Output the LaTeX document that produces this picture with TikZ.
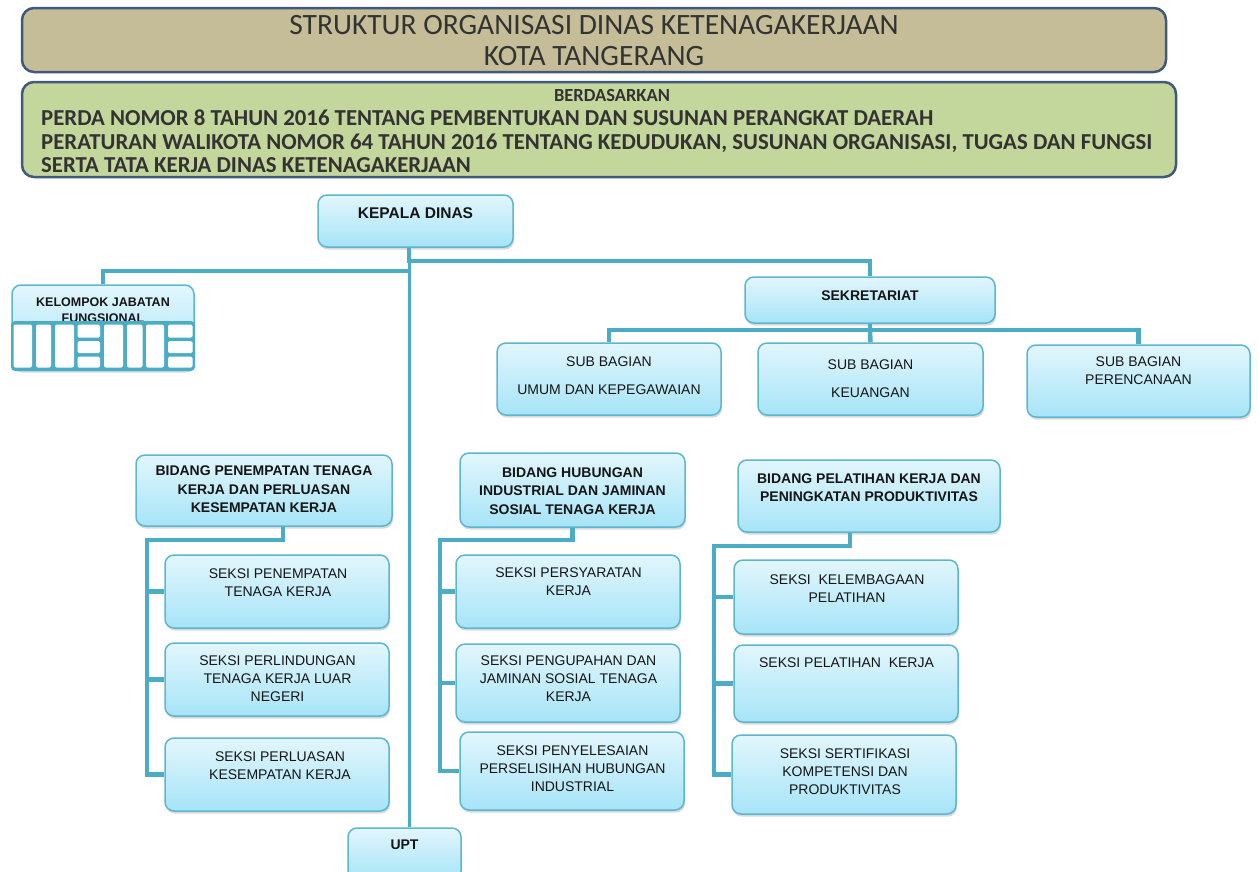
\documentclass[tikz,border=0pt]{standalone}
\usepackage{fontspec}
\setmainfont{Liberation Sans}
\newfontfamily\calib{Carlito}
\usetikzlibrary{shadows,calc}
\definecolor{connc}{HTML}{4BACC6}
\definecolor{bxline}{HTML}{5DB6D0}
\definecolor{bxtop}{HTML}{E2F6FD}
\definecolor{bxbot}{HTML}{A6E4F7}
\definecolor{hdline}{HTML}{41597C}
\definecolor{tanfill}{HTML}{C4BD97}
\definecolor{grnfill}{HTML}{C3D69B}
\definecolor{txt}{HTML}{151515}
\definecolor{ttxt}{HTML}{333333}
\begin{document}
\begin{tikzpicture}[x=1pt,y=-1pt,
  orgbox/.style={draw=bxline, line width=1.5pt, rounded corners=9pt, top color=bxtop, bottom color=bxbot, inner sep=0pt,
    drop shadow={shadow xshift=1pt, shadow yshift=-2.5pt, opacity=0.3, fill=gray}},
  conn/.style={draw=connc, line width=4.5pt},
  topconn/.style={draw=connc, line width=3.8pt},
  hdbox/.style={draw=hdline, line width=2.5pt, rounded corners=12pt, inner sep=0pt},
  bt/.style={font=\fontsize{14}{18.5}\selectfont\bfseries, align=center, text=txt, inner sep=0pt},
  rt/.style={font=\fontsize{14}{18}\selectfont, align=center, text=txt, inner sep=0pt},
]
\useasboundingbox (0,0) rectangle (1258,871);

% ---- headers
\node[hdbox, fill=tanfill, minimum width=1144, minimum height=64] (title) at (594,40) {};
\node[font=\calib\fontsize{29.5}{31}\selectfont, text=ttxt, align=center, inner sep=0pt] (titlet) at (594,41)
  {STRUKTUR ORGANISASI DINAS KETENAGAKERJAAN\\KOTA TANGERANG};
\node[hdbox, fill=grnfill, minimum width=1154, minimum height=95] (dasar) at (599,129.5) {};
\node[font=\calib\fontsize{18.5}{22}\selectfont\bfseries, text=ttxt, inner sep=0pt] (dasart) at (612,95) {BERDASARKAN};
\node[font=\calib\fontsize{22.8}{23.5}\selectfont\bfseries, text=ttxt, align=left, inner sep=0pt, anchor=west] (dasarl) at (41,141.5)
  {PERDA NOMOR 8 TAHUN 2016 TENTANG PEMBENTUKAN DAN SUSUNAN PERANGKAT DAERAH\\
   PERATURAN WALIKOTA NOMOR 64 TAHUN 2016 TENTANG KEDUDUKAN, SUSUNAN ORGANISASI, TUGAS DAN FUNGSI\\
   SERTA TATA KERJA DINAS KETENAGAKERJAAN};

% ---- boxes
\node[orgbox, minimum width=195, minimum height=52] (kd) at (415.5,221) {};
\node[bt, font=\fontsize{15.5}{18}\selectfont\bfseries] (kdt) at (415.5,213) {KEPALA DINAS};

\node[orgbox, minimum width=182, minimum height=85] (kjf) at (103,327.5) {};
\node[bt, font=\fontsize{12.5}{16}\selectfont\bfseries] (kjft) at (103,310.5) {KELOMPOK JABATAN\\FUNGSIONAL};
\fill[connc, rounded corners=4pt] (11,321) rectangle (195,371);
\foreach \a/\b in {13.5/32, 36/51, 55/74, 104/123, 127/142.5, 146/164}
  \fill[white, rounded corners=2pt] (\a,324.5) rectangle (\b,367.5);
\foreach \a/\b in {77.5/100, 168/192.5}
  \foreach \c/\d in {324.5/337.5, 341/353, 356.5/367.5}
    \fill[white, rounded corners=1.5pt] (\a,\c) rectangle (\b,\d);

\node[orgbox, minimum width=250, minimum height=46] (sek) at (870,300) {};
\node[bt] (sekt) at (870,296) {SEKRETARIAT};

\node[orgbox, minimum width=224, minimum height=72] (sb1) at (609,379) {};
\node[rt, font=\fontsize{14}{28}\selectfont] (sb1t) at (609,376) {SUB BAGIAN\\UMUM DAN KEPEGAWAIAN};
\node[orgbox, minimum width=225, minimum height=72] (sb2) at (870.5,379) {};
\node[rt, font=\fontsize{14}{28}\selectfont] (sb2t) at (870.5,379) {SUB BAGIAN\\KEUANGAN};
\node[orgbox, minimum width=223, minimum height=72] (sb3) at (1138.5,381) {};
\node[rt] (sb3t) at (1138.5,371) {SUB BAGIAN\\PERENCANAAN};

\node[orgbox, minimum width=256, minimum height=71] (b1) at (264,490.5) {};
\node[bt] (b1t) at (264,489.5) {BIDANG PENEMPATAN TENAGA\\KERJA DAN PERLUASAN\\KESEMPATAN KERJA};
\node[orgbox, minimum width=225, minimum height=74] (b2) at (572.5,490) {};
\node[bt] (b2t) at (572.5,491) {BIDANG HUBUNGAN\\INDUSTRIAL DAN JAMINAN\\SOSIAL TENAGA KERJA};
\node[orgbox, minimum width=262, minimum height=72] (b3) at (869,496) {};
\node[bt, font=\fontsize{14}{17.5}\selectfont\bfseries] (b3t) at (869,487.5) {BIDANG PELATIHAN KERJA DAN\\PENINGKATAN PRODUKTIVITAS};

\node[orgbox, minimum width=224, minimum height=73] (s11) at (277,591.5) {};
\node[rt] (s11t) at (278,583) {SEKSI PENEMPATAN\\TENAGA KERJA};
\node[orgbox, minimum width=224, minimum height=73] (s12) at (277,679.5) {};
\node[rt] (s12t) at (277.5,679) {SEKSI PERLINDUNGAN\\TENAGA KERJA LUAR\\NEGERI};
\node[orgbox, minimum width=224, minimum height=73] (s13) at (277,774.5) {};
\node[rt] (s13t) at (280,766) {SEKSI PERLUASAN\\KESEMPATAN KERJA};

\node[orgbox, minimum width=224, minimum height=73] (s21) at (568,591.5) {};
\node[rt] (s21t) at (568.5,582) {SEKSI PERSYARATAN\\KERJA};
\node[orgbox, minimum width=224, minimum height=78] (s22) at (568,683) {};
\node[rt] (s22t) at (568.5,679) {SEKSI PENGUPAHAN DAN\\JAMINAN SOSIAL TENAGA\\KERJA};
\node[orgbox, minimum width=224, minimum height=78] (s23) at (572,771) {};
\node[rt] (s23t) at (572.5,769) {SEKSI PENYELESAIAN\\PERSELISIHAN HUBUNGAN\\INDUSTRIAL};

\node[orgbox, minimum width=224, minimum height=74] (s31) at (846,597) {};
\node[rt] (s31t) at (847,588.5) {SEKSI~ KELEMBAGAAN\\PELATIHAN};
\node[orgbox, minimum width=224, minimum height=77] (s32) at (846,683.5) {};
\node[rt] (s32t) at (846.5,663) {SEKSI PELATIHAN~ KERJA};
\node[orgbox, minimum width=224, minimum height=79] (s33) at (844,774.5) {};
\node[rt] (s33t) at (845,771.5) {SEKSI SERTIFIKASI\\KOMPETENSI DAN\\PRODUKTIVITAS};

\node[orgbox, minimum width=113, minimum height=52] (upt) at (404.5,854) {};
\node[bt] (uptt) at (404.5,845) {UPT};

% ---- connectors
\coordinate (sp) at (409,261);
\draw[topconn, line width=3pt] (kd.south -| sp) -- (upt.north -| sp);
\draw[topconn] (kd.south -| sp) -- (sp) -| (sek.north);
\draw[topconn] ($(sp)+(0,10)$) -| (kjf.north);

\coordinate (sj) at (870,330);
\draw[topconn, line width=4.5pt] (sek.south) -- (sek.south |- sj);
\draw[topconn, line width=4.5pt] (sb1.north) |- (sj) -| (sb3.north);
\draw[topconn, line width=4.5pt] (sj) -- (sb2.north);

\coordinate (r1) at (147,540);
\draw[conn] ([xshift=19pt]b1.south) |- (r1) |- (s13.west);
\draw[conn] (s11.west) -- (s11.west -| r1);
\draw[conn] (s12.west) -- (s12.west -| r1);

\coordinate (r2) at (440,540);
\draw[conn] (b2.south) |- (r2) |- (s23.west);
\draw[conn] (s21.west) -- (s21.west -| r2);
\draw[conn] (s22.west) -- (s22.west -| r2);

\coordinate (r3) at (714,546);
\draw[conn] ([xshift=-19pt]b3.south) |- (r3) |- (s33.west);
\draw[conn] (s31.west) -- (s31.west -| r3);
\draw[conn] (s32.west) -- (s32.west -| r3);
\end{tikzpicture}
\end{document}
